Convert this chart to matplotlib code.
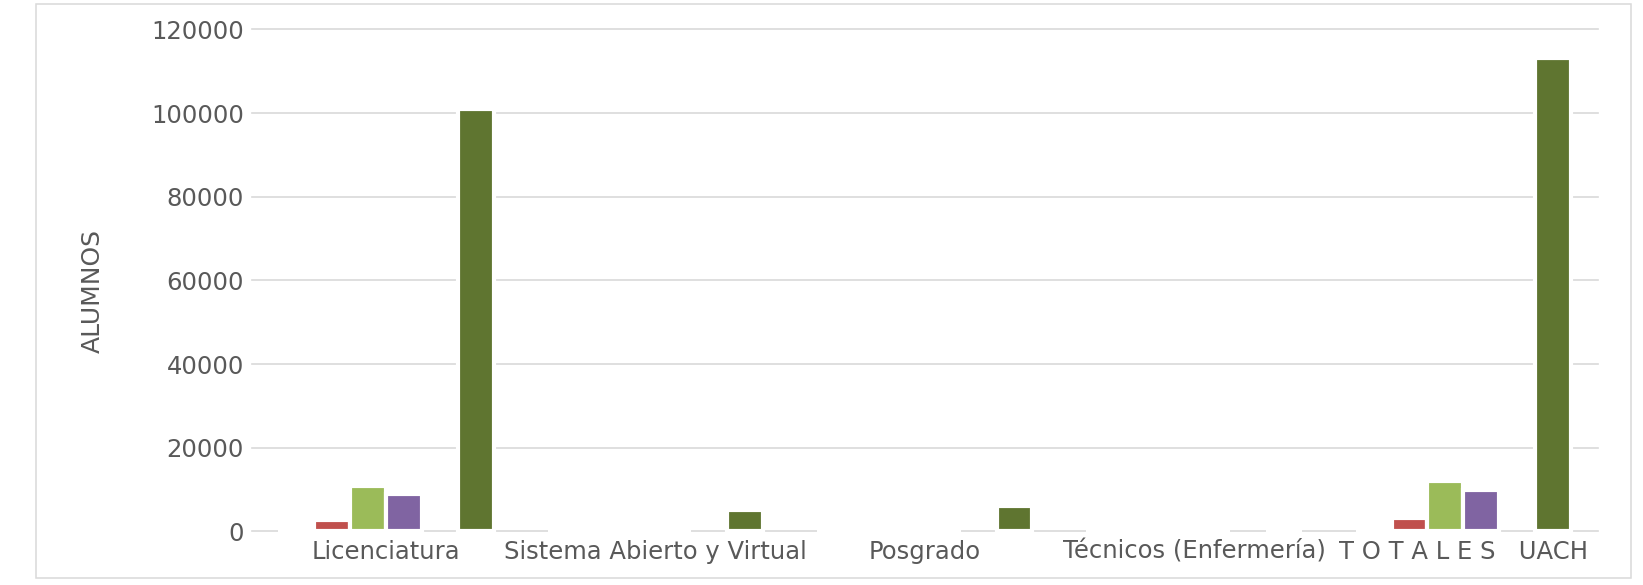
import numpy as np
import matplotlib
matplotlib.use("Agg")
import matplotlib.pyplot as plt
from matplotlib.patches import Rectangle

# data
categories = ["Licenciatura", "Sistema Abierto y Virtual", "Posgrado",
              "Técnicos (Enfermería)", "T O T A L E S   UACH"]
serie1 = [0, 0, 0, 0, 0]
serie2 = [2800, 0, 0, 0, 3200]
serie3 = [10950, 0, 0, 0, 12150]
serie4 = [8850, 0, 0, 0, 9900]
serie5 = [np.nan, np.nan, np.nan, np.nan, np.nan]
serie6 = [101000, 5100, 6050, 0, 113100]
y_ticks = [0, 20000, 40000, 60000, 80000, 100000, 120000]

series = [serie1, serie2, serie3, serie4, serie5, serie6]
colors = ["#4F81BD", "#C0504D", "#9BBB59", "#8064A2", "#4BACC6", "#5F7530"]

txt = "#595959"
grid = "#D9D9D9"

fig = plt.figure(figsize=(16.43, 5.85), dpi=100)
ax = fig.add_axes([0.1531, 0.0915, 0.8195, 0.8584])

x = np.arange(len(categories))
w = 1 / 7.5
for i, (vals, c) in enumerate(zip(series, colors)):
  bars = ax.bar(x + (i - 2.5) * w, vals, width=w, color=c,
                edgecolor="white", linewidth=3, zorder=3)
  for b in bars:
    b.set_clip_on(False)

ax.set_xlim(-0.5, len(categories) - 0.5)
ax.set_ylim(0, 120000)
ax.set_yticks(y_ticks)
ax.set_yticklabels([str(v) for v in y_ticks])
ax.set_xticks(x)
ax.set_xticklabels(categories)
ax.yaxis.grid(True, color=grid, linewidth=1.2, zorder=0)
ax.set_axisbelow(True)
for gl in ax.yaxis.get_gridlines():
  gl.set_clip_on(False)
for s in ax.spines.values():
  s.set_visible(False)
ax.tick_params(axis="both", length=0, labelsize=17.5, labelcolor=txt)
ax.tick_params(axis="x", pad=6)
ax.tick_params(axis="y", pad=5.5)

fig.text(0.0566, 0.5026, "ALUMNOS", rotation=90, ha="center", va="center",
         fontsize=18, color=txt)

# outer chart border
fig.patches.append(Rectangle((0.0219, 0.012), 0.9708, 0.9812, transform=fig.transFigure,
                             fill=False, edgecolor=grid, linewidth=1.1, zorder=0))

fig.savefig("out.png", dpi=100)
